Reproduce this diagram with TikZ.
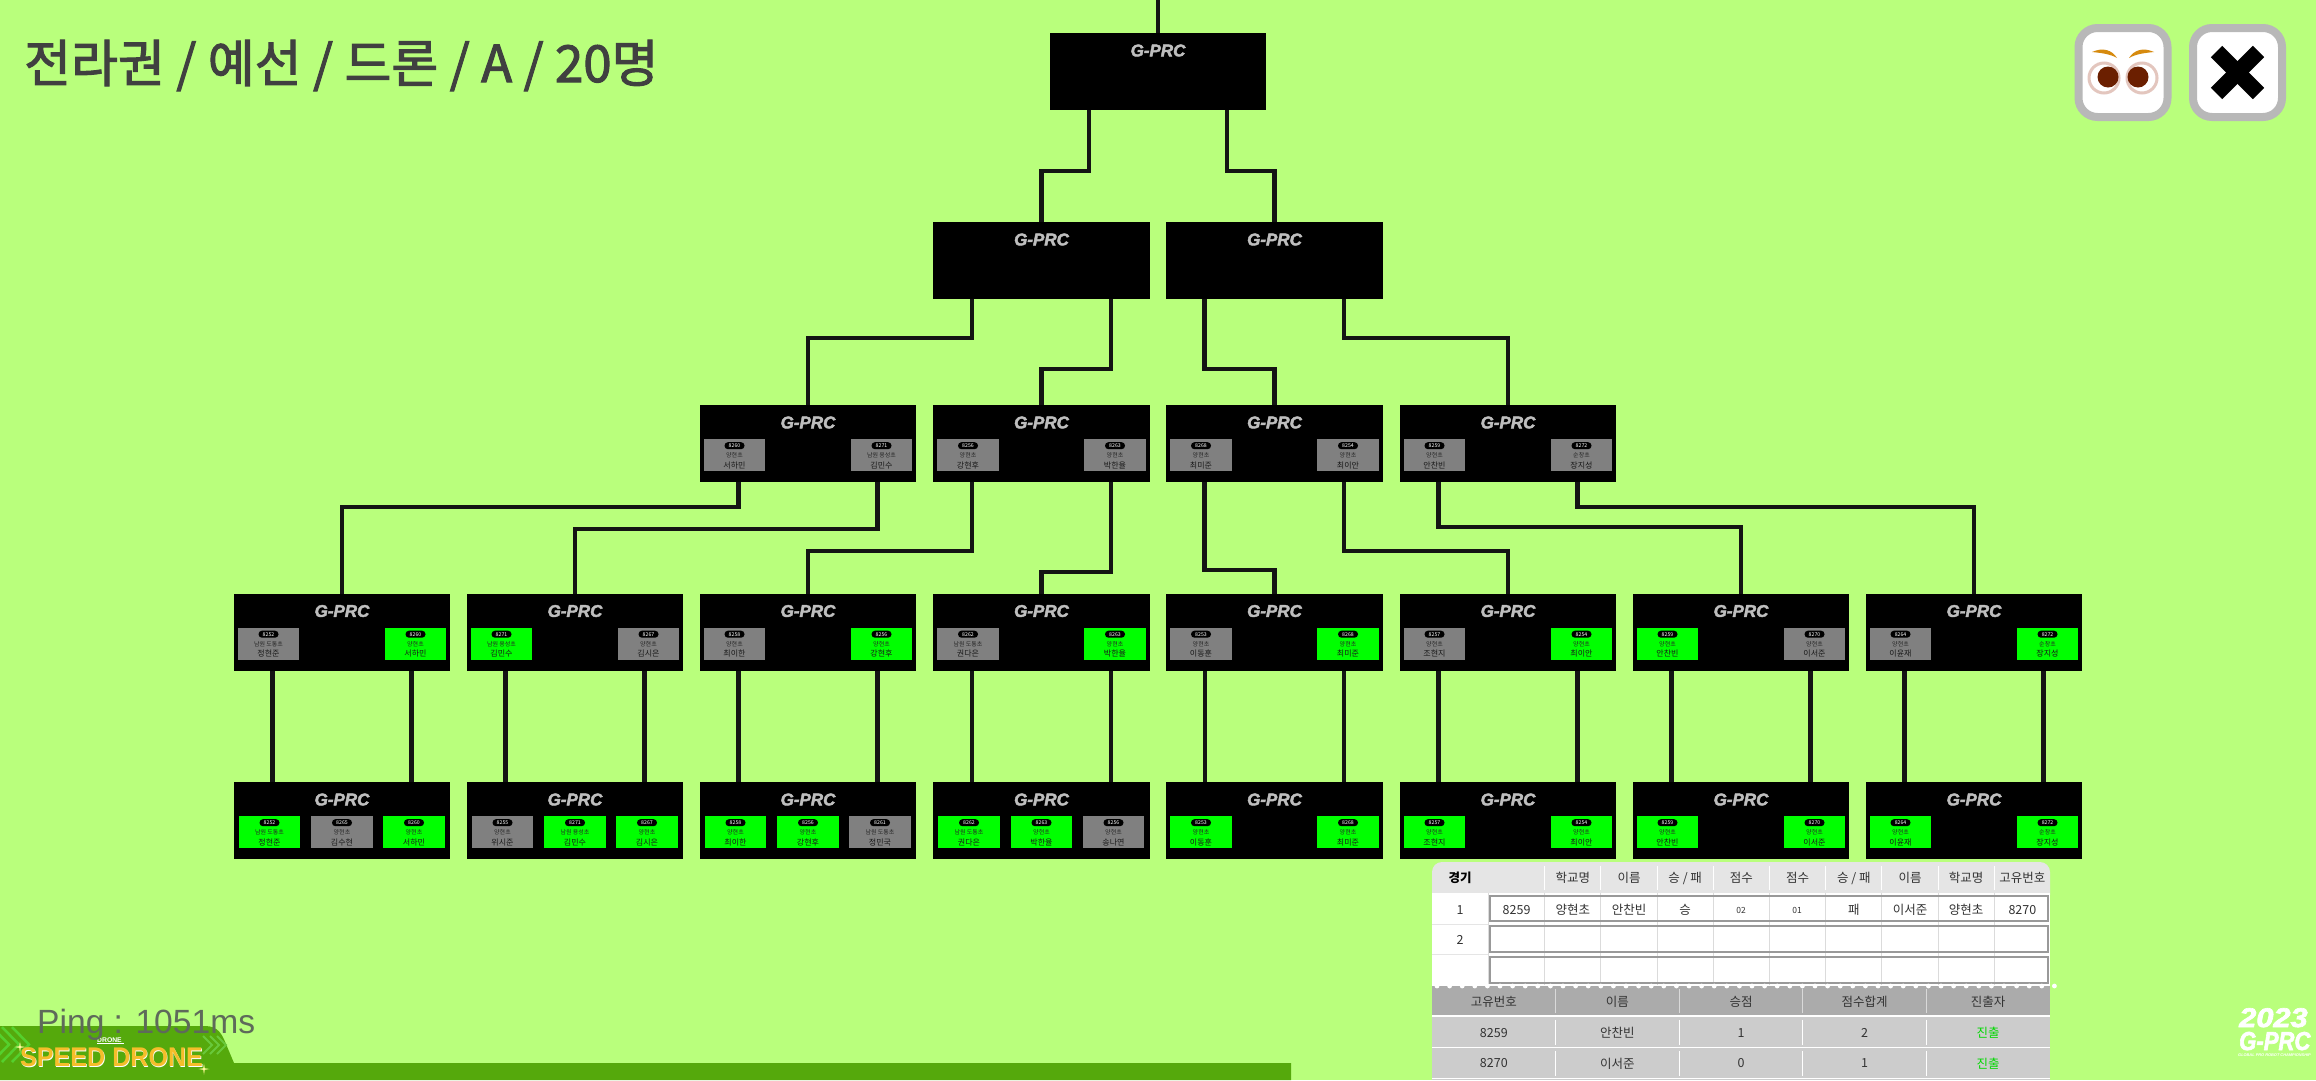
\documentclass[tikz,border=0pt]{standalone}
\usepackage{fontspec}
\setmainfont{Noto Sans CJK KR}
\newfontfamily\libsans{Liberation Sans}
\newfontfamily\logofont[ItalicFeatures={FakeBold=2.5},BoldItalicFeatures={FakeBold=2.5}]{Liberation Sans}
\newfontfamily\titlefont[FakeBold=2]{Noto Sans CJK KR}
\usetikzlibrary{calc,shapes.geometric}
\definecolor{bgc}{HTML}{B9FF7C}
\definecolor{cardgreen}{HTML}{00FF00}
\definecolor{cardgray}{HTML}{808080}
\definecolor{silver}{HTML}{BEBEBE}
\definecolor{tabdark}{HTML}{55A90C}
\definecolor{inktxt}{HTML}{333333}
\definecolor{pupil}{HTML}{6B1F00}
\definecolor{eyering}{HTML}{E3C6BE}
\definecolor{brow}{HTML}{D68A0E}
\definecolor{pinggray}{HTML}{5E6A5A}
\definecolor{goldtxt}{HTML}{F5BE2A}
\newcommand\fsz[1]{\fontsize{#1}{#1}\selectfont}
\tikzset{
  gbox/.style={fill=black,minimum width=216.5pt,minimum height=77pt,inner sep=0pt,outer sep=0pt},
  logotxt/.style={text=silver,inner sep=0pt,font=\logofont\bfseries\itshape\fsz{17}},
  cardbox/.style={minimum width=61.5pt,minimum height=32pt,inner sep=0pt,outer sep=0pt},
  pillbox/.style={fill=black,rounded corners=3.4pt,minimum width=20pt,minimum height=7pt,inner sep=0pt,text=white,font=\fsz{5.2}},
  schooltxt/.style={inner sep=0pt,text=black!85,font=\fsz{6}},
  nametxt/.style={inner sep=0pt,text=black!90,font=\fsz{8}},
  link/.style={draw=black!92,line width=4.2pt,line join=miter},
  ttxt/.style={inner sep=0pt,text=inktxt,font=\fsz{12.5}},
  sbtn/.style={draw=black!28,fill=white,line width=8pt,rounded corners=19pt,minimum width=89pt,minimum height=89pt,inner sep=0pt}
}
% box: name, centre x, top y
\newcommand\gbx[3]{%
  \node[gbox] (#1) at (#2,#3+38.5) {};
  \node[logotxt] (#1logo) at (#2,#3+17.5) {G-PRC};
}
% card: box, id, dx, colour, number, school, name
\newcommand\gcard[7]{%
  \node[cardbox,fill=#4] (#1#2card) at ([shift={(#3,50)}]#1.north) {};
  \node[pillbox] (#1#2pill) at ([shift={(#3,40.7)}]#1.north) {#5};
  \node[schooltxt] (#1#2school) at ([shift={(#3,50.3)}]#1.north) {#6};
  \node[nametxt] (#1#2name) at ([shift={(#3,60)}]#1.north) {#7};
}
\newcommand\gl[5]{\gcard{#1}{l}{-73.5}{#2}{#3}{#4}{#5}}
\newcommand\gr[5]{\gcard{#1}{r}{73.5}{#2}{#3}{#4}{#5}}
\newcommand\gtl[5]{\gcard{#1}{l}{-72.5}{#2}{#3}{#4}{#5}}
\newcommand\gtm[5]{\gcard{#1}{m}{0}{#2}{#3}{#4}{#5}}
\newcommand\gtr[5]{\gcard{#1}{r}{72}{#2}{#3}{#4}{#5}}
% connector: from box, dx, level y, to box
\newcommand\elbow[4]{%
  \coordinate (mid#4) at (#4.north |- 0,#3);
  \draw[link] ([xshift=#2pt]#1.south) |- (mid#4) -- (#4.north);
}
\newcommand\straight[3]{%
  \draw[link] ([xshift=#2pt]#1.south) -- ([xshift=#2pt]#3.north);
}
\begin{document}
\begin{tikzpicture}[x=1pt,y=-1pt]
\useasboundingbox (0,0) rectangle (2316,1080);
\fill[bgc] (0,0) rectangle (2316,1080);

% boxes
\gbx{top}{1158}{33}
\gbx{sa}{1041.5}{222}
\gbx{sb}{1274.5}{222}
\foreach \n/\x in {qa/808,qb/1041.5,qc/1274.5,qd/1508}{\gbx{\n}{\x}{405}}
\foreach \n/\x in {ea/342,eb/575,ec/808,ed/1041.5,ee/1274.5,ef/1508,eg/1741,eh/1974}{\gbx{\n}{\x}{593.5}}
\foreach \n/\x in {ra/342,rb/575,rc/808,rd/1041.5,re/1274.5,rf/1508,rg/1741,rh/1974}{\gbx{\n}{\x}{782}}

% connectors
\coordinate (roof) at (1158,0);
\draw[link] (roof) -- (top.north);
\elbow{top}{-69}{171}{sa}
\elbow{top}{69}{171}{sb}
\elbow{sa}{-69.5}{338}{qa}
\elbow{sa}{69.5}{369}{qb}
\elbow{sb}{-70}{369}{qc}
\elbow{sb}{69.5}{338}{qd}
\elbow{qa}{-69.5}{507}{ea}
\elbow{qa}{69.5}{529}{eb}
\elbow{qb}{-69.5}{551}{ec}
\elbow{qb}{69.5}{572}{ed}
\elbow{qc}{-70}{570}{ee}
\elbow{qc}{69.5}{551}{ef}
\elbow{qd}{-69.5}{527}{eg}
\elbow{qd}{69.5}{507}{eh}
\foreach \u/\d in {ea/ra,eb/rb,ec/rc,ed/rd,ee/re,ef/rf,eg/rg,eh/rh}{
  \straight{\u}{-69.5}{\d}
  \straight{\u}{69.5}{\d}
}

% quarter-final cards
\gl{qa}{cardgray}{8260}{양현초}{서하민}
\gr{qa}{cardgray}{8271}{남원 용성초}{김민수}
\gl{qb}{cardgray}{8256}{양현초}{강현후}
\gr{qb}{cardgray}{8263}{양현초}{박한율}
\gl{qc}{cardgray}{8268}{양현초}{최미준}
\gr{qc}{cardgray}{8254}{양현초}{최이안}
\gl{qd}{cardgray}{8259}{양현초}{안찬빈}
\gr{qd}{cardgray}{8272}{순창초}{장지성}

% second row cards
\gl{ea}{cardgray}{8252}{남원 도통초}{정현준}
\gr{ea}{cardgreen}{8260}{양현초}{서하민}
\gl{eb}{cardgreen}{8271}{남원 용성초}{김민수}
\gr{eb}{cardgray}{8267}{양현초}{김시은}
\gl{ec}{cardgray}{8258}{양현초}{최이한}
\gr{ec}{cardgreen}{8256}{양현초}{강현후}
\gl{ed}{cardgray}{8262}{남원 도통초}{권다은}
\gr{ed}{cardgreen}{8263}{양현초}{박한율}
\gl{ee}{cardgray}{8253}{양현초}{이동훈}
\gr{ee}{cardgreen}{8268}{양현초}{최미준}
\gl{ef}{cardgray}{8257}{양현초}{조현지}
\gr{ef}{cardgreen}{8254}{양현초}{최이안}
\gl{eg}{cardgreen}{8259}{양현초}{안찬빈}
\gr{eg}{cardgray}{8270}{양현초}{이서준}
\gl{eh}{cardgray}{8264}{양현초}{이윤재}
\gr{eh}{cardgreen}{8272}{순창초}{장지성}

% bottom row cards
\gtl{ra}{cardgreen}{8252}{남원 도통초}{정현준}
\gtm{ra}{cardgray}{8265}{양현초}{김수현}
\gtr{ra}{cardgreen}{8260}{양현초}{서하민}
\gtl{rb}{cardgray}{8255}{양현초}{위시준}
\gtm{rb}{cardgreen}{8271}{남원 용성초}{김민수}
\gtr{rb}{cardgreen}{8267}{양현초}{김시은}
\gtl{rc}{cardgreen}{8258}{양현초}{최이한}
\gtm{rc}{cardgreen}{8256}{양현초}{강현후}
\gtr{rc}{cardgray}{8261}{남원 도통초}{정민국}
\gtl{rd}{cardgreen}{8262}{남원 도통초}{권다은}
\gtm{rd}{cardgreen}{8263}{양현초}{박한율}
\gtr{rd}{cardgray}{8256}{양현초}{송나연}
\gl{re}{cardgreen}{8253}{양현초}{이동훈}
\gr{re}{cardgreen}{8268}{양현초}{최미준}
\gl{rf}{cardgreen}{8257}{양현초}{조현지}
\gr{rf}{cardgreen}{8254}{양현초}{최이안}
\gl{rg}{cardgreen}{8259}{양현초}{안찬빈}
\gr{rg}{cardgreen}{8270}{양현초}{이서준}
\gl{rh}{cardgreen}{8264}{양현초}{이윤재}
\gr{rh}{cardgreen}{8272}{순창초}{장지성}

% title
\node[anchor=base west,inner sep=0pt,text=black!75,font=\titlefont\fsz{51}] (title) at (24,82) {전라권 / 예선 / 드론 / A / 20명};

% buttons
\node[sbtn] (eyebtn) at (2123,72.5) {};
\node[sbtn] (xbtn) at (2237.5,72.5) {};
\draw[line width=3pt,draw=eyering] (2104,78) circle (15);
\draw[line width=3pt,draw=eyering] (2142,78) circle (15);
\fill[pupil] (2108,77) circle (10.5) (2138,77) circle (10.5);
\fill[brow] (2092,52) .. controls (2103,47) and (2112,50) .. (2117,58) .. controls (2110,54) and (2102,53) .. (2092,52);
\fill[brow] (2154,52) .. controls (2143,47) and (2134,50) .. (2129,58) .. controls (2136,54) and (2144,53) .. (2154,52);
\draw[line width=16pt,black] (2216.5,51.5) -- (2258.5,93.5);
\draw[line width=16pt,black] (2258.5,51.5) -- (2216.5,93.5);

% bottom-left logo
\fill[tabdark] (0,1080) -- (0,1026) -- (205,1026) .. controls (218,1026) and (222,1034) .. (226,1044) -- (234,1063) -- (1291,1063) -- (1291,1080) -- cycle;
\begin{scope}
  \clip (0,1026) rectangle (40,1063);
  \foreach \k in {0,10,20}{
    \draw[line width=2.5pt,green!35!tabdark!85!white] (\k-8,1027) -- (\k+9,1044.5) -- (\k-8,1062);
  }
\end{scope}
\foreach \k in {0,7,14}{
  \draw[line width=1.8pt,green!20!tabdark!80!white] (203+\k,1036) -- (212+\k,1045) -- (203+\k,1054);
}
\node[anchor=base,inner sep=0pt,text=white,font=\libsans\bfseries\fsz{6.8}] (dronesub) at (109.5,1042) {DRONE};
\draw[white,line width=0.8pt] (dronesub.south west) ++(0,1) -- ++(27,0);
\node[anchor=base west,inner sep=0pt,text=white,xscale=0.93,transform shape,font=\libsans\bfseries\fsz{27}] (speedbk) at (20.6,1067) {SPEED DRONE};
\node[anchor=base west,inner sep=0pt,text=goldtxt,xscale=0.93,transform shape,font=\libsans\bfseries\fsz{27}] (speed) at (20,1066) {SPEED DRONE};
\node[star,star points=4,star point ratio=5,fill=yellow!40!white,inner sep=0pt,minimum size=11pt] (spark1) at (20,1047) {};
\node[star,star points=4,star point ratio=5,fill=yellow!40!white,inner sep=0pt,minimum size=11pt] (spark2) at (204,1069) {};
\node[anchor=base west,inner sep=0pt,text=pinggray,font=\libsans\fsz{33.6}] (ping) at (37,1033) {Ping : 1051ms};

% bottom-right logo
\node[anchor=base west,inner sep=0pt,text=white,xscale=1.14,transform shape,font=\logofont\bfseries\itshape\fsz{27}] (yr) at (2239,1027) {2023};
\node[anchor=base west,inner sep=0pt,text=white,xscale=0.85,transform shape,font=\logofont\bfseries\itshape\fsz{26}] (gprc) at (2239,1050) {G-PRC};
\node[anchor=base west,inner sep=0pt,text=white,font=\libsans\bfseries\itshape\fsz{3.9}] (tagline) at (2238,1056) {GLOBAL PRO ROBOT CHAMPIONSHIP};

% match table
\fill[black!10,rounded corners=10pt] (1432,905) rectangle (2050,862);
\fill[white] (1432,893) rectangle (2050,987);
\foreach \k in {1,...,9}{
  \draw[white,line width=1pt] (1488.5+56.2*\k,866) -- (1488.5+56.2*\k,890);
}
\foreach \k in {0,...,9}{
  \draw[black!14,line width=1pt] (1488.5+56.2*\k,893) -- (1488.5+56.2*\k,985);
}
\draw[black!10,line width=0.8pt] (1432,924) -- (1488,924) (1432,954) -- (1488,954);
\foreach \ya/\yb in {895/922,925/953,956/984}{
  \draw[black!40,line width=2.8pt] (1490,\ya+1) rectangle (2048,\yb-1);
}
\node[ttxt,font=\bfseries\fsz{12.5},text=black] (hgame) at (1460,878) {경기};
\foreach \i/\t in {1/{학교명},2/{이름},3/{승 / 패},4/{점수},5/{점수},6/{승 / 패},7/{이름},8/{학교명},9/{고유번호}}{
  \node[ttxt] (h\i) at (1516.6+56.2*\i,878) {\t};
}
\node[ttxt] (rowone) at (1460,910) {1};
\node[ttxt] (rowtwo) at (1460,940) {2};
\foreach \i/\t in {0/8259,1/양현초,2/안찬빈,3/승,6/패,7/이서준,8/양현초,9/8270}{
  \node[ttxt] (c\i) at (1516.6+56.2*\i,910) {\t};
}
\node[ttxt,font=\fsz{8.5}] (c4) at (1741,910) {02};
\node[ttxt,font=\fsz{8.5}] (c5) at (1797,910) {01};

% summary table
\fill[black!20] (1432,986) rectangle (2050,1080);
\fill[black!33] (1432,986) rectangle (2050,1015);
\foreach \k in {0,...,49}{\fill[white] (1437+12.6*\k,986) circle (2.4);}
\draw[white,line width=1.6pt] (1432,1016) -- (2050,1016) (1432,1047.5) -- (2050,1047.5) (1432,1078.5) -- (2050,1078.5);
\foreach \x in {1555.6,1679.2,1802.8,1926.4}{
  \draw[black!15,line width=0.8pt] (\x,989) -- (\x,1013);
  \draw[white,line width=0.8pt] (\x,1020) -- (\x,1045) (\x,1051) -- (\x,1076);
}
\foreach \i/\t in {0/고유번호,1/이름,2/승점,3/점수합계,4/진출자}{
  \node[ttxt] (s\i) at (1493.8+123.6*\i,1002) {\t};
}
\foreach \i/\t in {0/8259,1/안찬빈,2/1,3/2}{
  \node[ttxt] (p\i) at (1493.8+123.6*\i,1033) {\t};
}
\foreach \i/\t in {0/8270,1/이서준,2/0,3/1}{
  \node[ttxt] (q\i) at (1493.8+123.6*\i,1063.5) {\t};
}
\node[ttxt,text=green!85!black] (pfour) at (1988.2,1033) {진출};
\node[ttxt,text=green!85!black] (qfour) at (1988.2,1063.5) {진출};
\end{tikzpicture}
\end{document}
